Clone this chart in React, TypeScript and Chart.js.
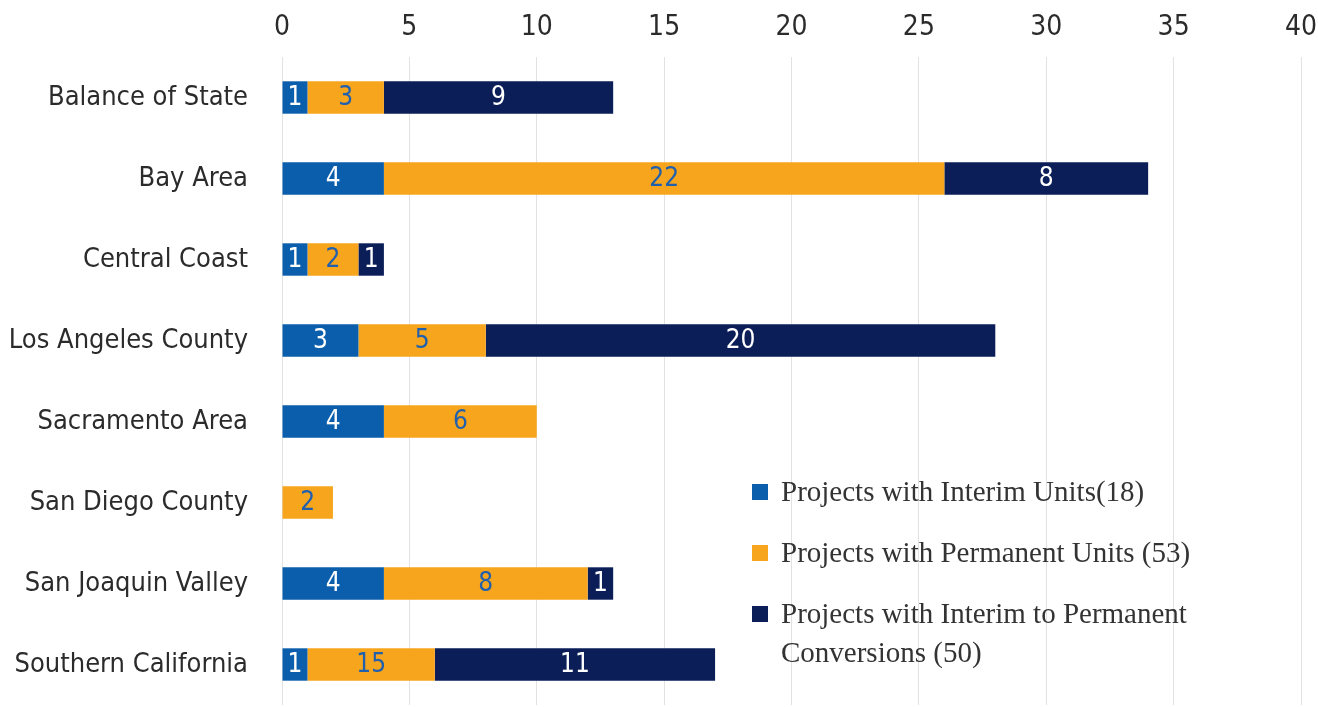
import React, { useEffect, useRef } from "react";
import { Chart, registerables } from "chart.js";

Chart.register(...registerables);

const categories = [
  "Balance of State",
  "Bay Area",
  "Central Coast",
  "Los Angeles County",
  "Sacramento Area",
  "San Diego County",
  "San Joaquin Valley",
  "Southern California",
];
const interimUnits = [1, 4, 1, 3, 4, 0, 4, 1];
const permanentUnits = [3, 22, 2, 5, 6, 2, 8, 5];
const conversions = [9, 8, 1, 20, 0, 0, 1, 11];
// Labels as printed in the source chart (Southern California's permanent bar is labelled "15")
const interimLabels = ["1", "4", "1", "3", "4", "", "4", "1"];
const permanentLabels = ["3", "22", "2", "5", "6", "2", "8", "15"];
const conversionLabels = ["9", "8", "1", "20", "", "", "1", "11"];
const seriesLabels = [
  "Projects with Interim Units(18)",
  "Projects with Permanent Units (53)",
  "Projects with Interim to Permanent Conversions (50)",
];
const xTicks = [0, 5, 10, 15, 20, 25, 30, 35, 40];

const COLORS = ["#0B5EAB", "#F7A51D", "#0B1E58"];
const LABEL_COLORS = ["#FFFFFF", "#2160AC", "#FFFFFF"];
const NARROW = "'Liberation Sans Narrow', 'DejaVu Sans Condensed', 'Roboto Condensed', 'Liberation Sans', sans-serif";
const SERIF = "'Liberation Serif', 'DejaVu Serif', serif";
const PRINTED = [interimLabels, permanentLabels, conversionLabels];

const valueLabels = {
  id: "valueLabels",
  afterDatasetsDraw(chart: any) {
    const ctx = chart.ctx;
    ctx.save();
    ctx.font = `26px ${NARROW}`;
    ctx.textAlign = "center";
    ctx.textBaseline = "middle";
    chart.data.datasets.forEach((ds: any, di: number) => {
      const meta = chart.getDatasetMeta(di);
      meta.data.forEach((el: any, i: number) => {
        const t = PRINTED[di][i];
        if (!ds.data[i] || !t) return;
        ctx.fillStyle = LABEL_COLORS[di];
        ctx.fillText(t, (el.x + el.base) / 2, el.y + 1);
      });
    });
    ctx.restore();
  },
};

const zeroPad = (s: any) => {
  s.paddingTop = 0;
  s.paddingBottom = 0;
  s.paddingLeft = 0;
  s.paddingRight = 0;
};

export default function App() {
  const ref = useRef<HTMLCanvasElement>(null);
  useEffect(() => {
    document.body.style.margin = "0";
    const chart = new Chart(ref.current as HTMLCanvasElement, {
      type: "bar",
      data: {
        labels: categories,
        datasets: [interimUnits, permanentUnits, conversions].map((d, i) => ({
          label: seriesLabels[i],
          data: d,
          backgroundColor: COLORS[i],
          borderWidth: 0,
          barPercentage: 0.4,
          categoryPercentage: 1,
        })),
      },
      options: {
        indexAxis: "y",
        animation: false,
        responsive: false,
        maintainAspectRatio: false,
        layout: { padding: { top: 0, right: 17, bottom: 2, left: 0 } },
        plugins: { legend: { display: false }, tooltip: { enabled: false } },
        scales: {
          x: {
            position: "top",
            stacked: true,
            min: 0,
            max: 40,
            afterBuildTicks: (s: any) => {
              s.ticks = xTicks.map((v) => ({ value: v }));
            },
            afterFit: (s: any) => {
              s.height = 57;
              zeroPad(s);
            },
            ticks: {
              color: "#2b2b2b",
              font: { family: NARROW, size: 28 },
              padding: 12,
            },
            grid: { color: "#E2E2E2", lineWidth: 1, drawTicks: false },
            border: { display: false },
          },
          y: {
            stacked: true,
            afterFit: (s: any) => {
              s.width = 282;
              zeroPad(s);
            },
            ticks: {
              color: "#2b2b2b",
              font: { family: NARROW, size: 27 },
              padding: 34,
            },
            grid: { display: false, drawTicks: false },
            border: { display: false },
          },
        },
      } as any,
      plugins: [valueLabels],
    });
    return () => chart.destroy();
  }, []);

  return (
    <div style={{ position: "fixed", left: 0, top: 0, width: 1318, height: 707, background: "#fff" }}>
      <canvas ref={ref} width={1318} height={707} style={{ width: 1318, height: 707 }} />
      <div style={{ position: "absolute", left: 752, top: 472, fontFamily: SERIF, fontSize: 29, color: "#333" }}>
        {seriesLabels.map((l, i) => (
          <div key={i} style={{ display: "flex", alignItems: "flex-start", marginBottom: 22 }}>
            <div style={{ width: 16, height: 16, background: COLORS[i], marginTop: 12, marginRight: 13, flex: "none" }} />
            <div style={{ width: 425, lineHeight: "39px" }}>{l}</div>
          </div>
        ))}
      </div>
    </div>
  );
}
